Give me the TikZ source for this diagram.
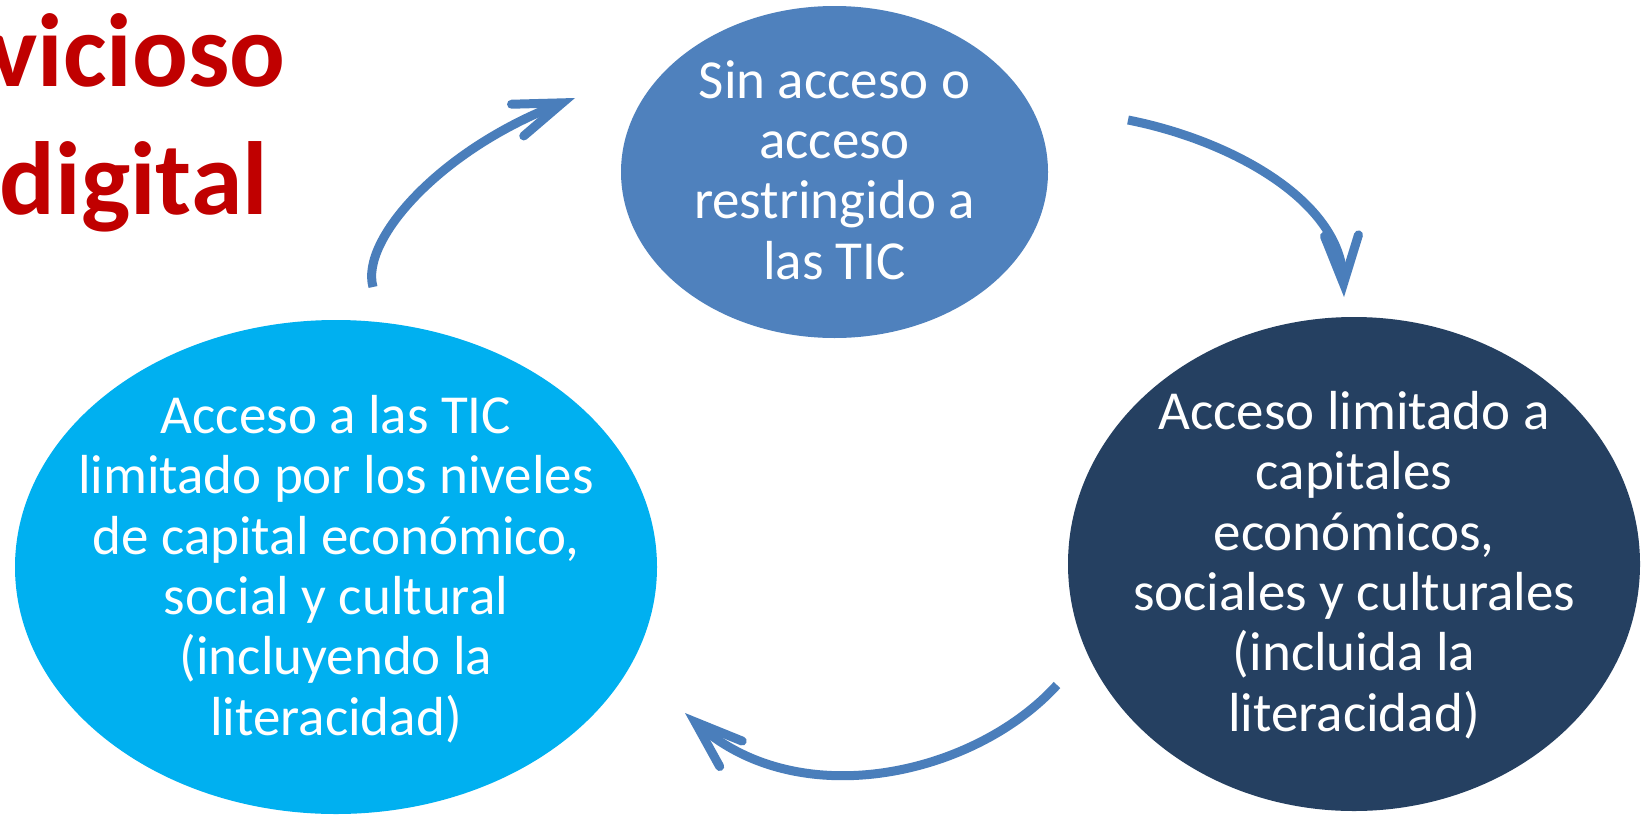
\documentclass[tikz,border=0pt]{standalone}
\usepackage{fontspec}
\setmainfont{Carlito}
\usetikzlibrary{arrows.meta,shapes.geometric}
\definecolor{topblue}{HTML}{4F81BD}
\definecolor{cyanb}{HTML}{00B0F0}
\definecolor{navyb}{HTML}{254061}
\definecolor{arrowc}{HTML}{4A7EBB}
\definecolor{titlered}{HTML}{C00000}
\begin{document}
\begin{tikzpicture}[x=1pt,y=-1pt,
  bubble/.style={ellipse, draw=none, inner sep=0pt, outer sep=0pt},
  bubbletext/.style={text=white, align=center, inner sep=0pt, font=\fontsize{55}{60.4}\selectfont},
  cyclearrow/.style={draw=arrowc, line width=9pt, line cap=butt, -{Straight Barb[length=48pt,width=34pt,line cap=round]}},
  titletext/.style={text=titlered, anchor=base east, inner sep=0pt, font=\bfseries\fontsize{104}{128}\selectfont}]
\useasboundingbox (0,0) rectangle (1643,814);
\clip (0,0) rectangle (1643,814);
\fill[white] (0,0) rectangle (1643,814);

% title (cropped)
\node[titletext] (t1) at (286,86) {vicioso};
\node[titletext] (t2) at (268,214) {digital};

% ellipses
\node[bubble, fill=topblue, minimum width=427pt, minimum height=332pt] (top) at (834.5,172) {};
\node[bubble, fill=cyanb, minimum width=642pt, minimum height=494pt] (left) at (336,567) {};
\node[bubble, fill=navyb, minimum width=572pt, minimum height=494pt] (right) at (1354,564) {};

\node[bubbletext] (topT) at (834.5,170) {Sin acceso o\\acceso\\restringido a\\las TIC};
\node[bubbletext] (leftT) at (336,569) {Acceso a las TIC\\limitado por los niveles\\de capital económico,\\social y cultural\\(incluyendo la\\literacidad)};
\node[bubbletext] (rightT) at (1354,565) {Acceso limitado a\\capitales\\económicos,\\sociales y culturales\\(incluida la\\literacidad)};

% arrows
\coordinate (a1s) at (373,287);
\coordinate (a1e) at (575,98);
\coordinate (a2s) at (1128,120);
\coordinate (a2e) at (1344,297);
\coordinate (a3s) at (1057,685);
\coordinate (a3e) at (685,713);
\draw[cyclearrow] (a1s) .. controls (360,240) and (440,150) .. (a1e);
\draw[cyclearrow] (a2s) .. controls (1230,140) and (1340,200) .. (a2e);
\draw[cyclearrow] (a3s) .. controls (975,775) and (800,815) .. (a3e);
\end{tikzpicture}
\end{document}
